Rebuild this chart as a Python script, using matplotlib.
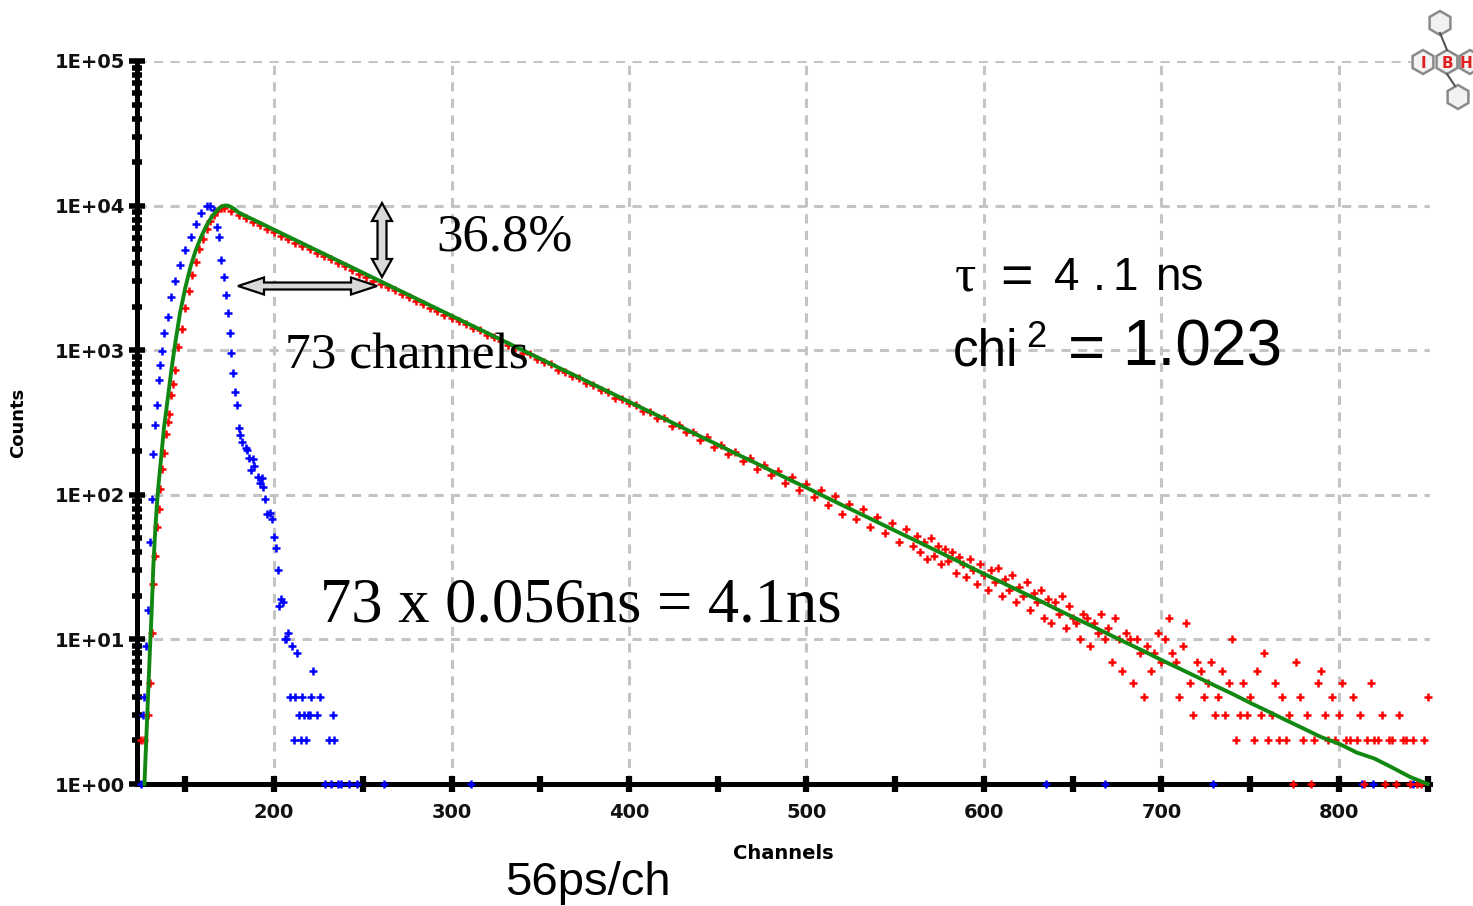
#!/usr/bin/env python3

# imports
import numpy as np
import matplotlib
matplotlib.use('Agg')
import matplotlib.pyplot as plt
from matplotlib.ticker import MultipleLocator, LogLocator, FuncFormatter, NullFormatter
from matplotlib.patches import Polygon, RegularPolygon

# decay data (red), rising edge read point by point, then every 4 / every 2 channels
red_rise_ch = [125, 127, 129, 130, 131, 132, 133, 134, 135, 136, 137, 138, 139, 140, 141,
               142, 143, 144, 146, 148, 150, 152, 154, 156, 158, 160, 162, 164, 166, 168, 170]
red_rise_counts = [2, 2, 3, 5, 11, 24, 38, 60, 80, 110, 150, 195, 265, 320, 360,
                   490, 580, 730, 1050, 1400, 1950, 2550, 3300, 4100, 5000, 5900, 6900, 7800, 8600, 9200, 9600]

red_mid_ch = np.arange(172, 561, 4)
red_mid_counts = [9650, 9150, 8600, 8150, 7750, 7300, 6900, 6550, 6200, 5900,
                  5550, 5250, 4980, 4700, 4450, 4250, 3980, 3800, 3580, 3380,
                  3230, 3020, 2890, 2720, 2590, 2430, 2330, 2180, 2090, 1960,
                  1870, 1760, 1670, 1600, 1510, 1420, 1370, 1270, 1230, 1150,
                  1090, 1040, 960, 935, 870, 830, 800, 735, 712, 660,
                  640, 590, 575, 530, 515, 470, 462, 430, 418, 380,
                  372, 340, 338, 300, 305, 270, 272, 240, 250, 215,
                  222, 190, 198, 170, 180, 150, 162, 138, 145, 120,
                  133, 108, 118, 96, 108, 85, 98, 74, 86, 68,
                  80, 60, 70, 54, 64, 47, 58, 44]

red_tail_ch = np.arange(562, 851, 2)
red_tail_counts = [52, 40, 47, 36, 50, 38, 44, 33, 42, 35,
                   40, 29, 37, 33, 27, 36, 30, 24, 33, 28,
                   22, 30, 25, 31, 20, 26, 22, 28, 18, 23,
                   20, 25, 16, 21, 18, 22, 14, 19, 13, 18,
                   15, 20, 12, 17, 14, 13, 10, 15, 14, 9,
                   13, 11, 15, 10, 12, 7, 14, 10, 6, 11,
                   10, 5, 10, 8, 4, 9, 6, 8, 11, 7,
                   10, 14, 8, 7, 4, 9, 13, 5, 3, 7,
                   6, 4, 5, 7, 3, 4, 6, 3, 5, 10,
                   2, 3, 5, 3, 4, 2, 6, 3, 8, 2,
                   3, 5, 2, 4, 2, 3, 1, 7, 4, 2,
                   3, 1, 2, 5, 6, 3, 2, 4, 2, 3,
                   5, 2, 2, 4, 2, 3, 1, 2, 5, 2,
                   2, 3, 1, 2, 2, 1, 3, 2, 2, 1,
                   2, 1, 1, 2, 4]

# instrument response (blue)
irf_ch = [125, 126, 127, 128, 129, 130, 131, 132, 133, 134,
          135, 136, 137, 138, 140, 142, 144, 147, 150, 153,
          156, 159, 162, 164, 166, 168, 169, 170, 172, 173,
          174, 175, 176, 177, 178, 179, 180, 181, 182, 184,
          185, 186, 187, 188, 189, 191, 192, 193, 194, 195,
          196, 198, 199, 200, 201, 202, 203, 204, 205, 206,
          207, 208, 209, 210, 211, 212, 213, 214, 215, 216,
          217, 218, 219, 220, 221, 222, 224, 226, 229, 231,
          232, 233, 234, 236, 238, 242, 247, 262, 311, 635,
          668, 729, 813, 819, 842]
irf_counts = [1, 3, 4, 9, 16, 47, 94, 191, 303, 420,
              620, 790, 980, 1310, 1700, 2350, 3000, 3900, 4900, 6100,
              7500, 8900, 9950, 9900, 9300, 7100, 6100, 4200, 3200, 2400,
              1800, 1310, 955, 700, 510, 420, 290, 260, 233, 211,
              204, 180, 148, 177, 158, 133, 120, 130, 113, 93,
              74, 75, 68, 51, 43, 30, 17, 19, 18, 10,
              10, 11, 4, 9, 2, 4, 8, 3, 2, 4,
              3, 2, 3, 3, 4, 6, 3, 4, 1, 2,
              1, 3, 2, 1, 1, 1, 1, 1, 1, 1,
              1, 1, 1, 1, 1]

# fitted curve (green)
fit_ch = [127, 128, 129, 130, 131, 132, 133, 134, 135, 136, 138, 140,
          142, 144, 147, 150, 153, 156, 159, 162, 165, 168, 170, 172,
          174, 176, 178] + list(range(180, 851, 10))
fit_counts = [1, 2, 4, 8, 15, 32, 55, 85, 120, 160, 290, 450,
              700, 1050, 1800, 2700, 3800, 4950, 6100, 7300, 8400, 9300, 9800, 10000,
              10000, 9750, 9400,
              8960, 7815, 6814, 5941, 5182, 4519, 3940, 3436, 2996, 2612,
              2278, 1986, 1732, 1510, 1317, 1148, 1001, 873, 761, 664,
              579, 505, 440, 384, 335, 292, 254, 222, 193, 169,
              147, 128, 112, 97.5, 85, 74.2, 64.7, 56.4, 49.2, 42.9,
              37.4, 32.6, 28.4, 24.8, 21.6, 18.9, 16.4, 14.3, 12.5, 10.9,
              9.5, 8.3, 7.2, 6.3, 5.5, 4.8, 4.2, 3.64, 3.18, 2.77,
              2.42, 2.11, 1.9, 1.65, 1.5, 1.3, 1.12, 1.0]

red_ch = np.concatenate([red_rise_ch, red_mid_ch, red_tail_ch])
red_counts = np.concatenate([red_rise_counts, red_mid_counts, red_tail_counts])

W, H = 1473, 906
fig = plt.figure(figsize=(W / 100, H / 100), dpi=100)
fig.patch.set_facecolor('white')

# axes placed in pixels of the original picture
L, R, T, B = 137, 1430, 61, 784
ax = fig.add_axes([L / W, 1 - B / H, (R - L) / W, (B - T) / H])
ax.set_yscale('log')
ax.set_xlim(122.8, 851.3)
ax.set_ylim(1, 1e5)

mk = dict(linestyle='none', marker='+', markersize=5.5, markeredgewidth=1.8, clip_on=False)
ax.plot(irf_ch, irf_counts, color='#0000ff', zorder=4, **mk)
ax.plot(red_ch, red_counts, color='#ff0000', zorder=5, **mk)
ax.plot(fit_ch, fit_counts, color='#118811', lw=2.8, zorder=6, clip_on=False)

# grid, spines, ticks
ax.grid(True, which='major', color='#c4c4c4', lw=2.2, ls=(0, (3, 2.4)))
ax.set_axisbelow(True)
for side in ['top', 'right']:
    ax.spines[side].set_visible(False)
for side in ['left', 'bottom']:
    ax.spines[side].set_linewidth(3.6)
    ax.spines[side].set_zorder(3)

ax.xaxis.set_major_locator(MultipleLocator(100))
ax.xaxis.set_minor_locator(MultipleLocator(50))
ax.yaxis.set_major_locator(LogLocator(base=10, numticks=10))
ax.yaxis.set_minor_locator(LogLocator(base=10, subs=np.arange(2, 10), numticks=10))
ax.yaxis.set_major_formatter(FuncFormatter(lambda v, _: '1E+%02d' % int(round(np.log10(v)))))
ax.yaxis.set_minor_formatter(NullFormatter())

ax.tick_params(axis='x', which='both', direction='inout', length=11, width=4.5, pad=8,
               labelsize=14, color='black')
ax.tick_params(axis='y', which='major', direction='inout', length=11, width=4, pad=3,
               labelsize=14)
ax.tick_params(axis='y', which='minor', direction='inout', length=7, width=4)
for lab in ax.get_xticklabels() + ax.get_yticklabels():
    lab.set_fontweight('bold')
    lab.set_color('#111111')

ax.set_xlabel('Channels', fontsize=14, fontweight='bold', labelpad=16)
ax.set_ylabel('Counts', fontsize=13, fontweight='bold', labelpad=20)


def ptext(x, y, s, **kw):
    fig.text(x / W, 1 - y / H, s, va='baseline', ha='left', **kw)


def block_arrow(x0, y0, x1, y1, sw, hw, hl):
    # double headed block arrow, given in picture pixels
    p0, p1 = np.array([x0, y0], float), np.array([x1, y1], float)
    u = (p1 - p0) / np.hypot(*(p1 - p0))
    n = np.array([-u[1], u[0]])
    pts = [p0, p0 + u * hl + n * hw / 2, p0 + u * hl + n * sw / 2,
           p1 - u * hl + n * sw / 2, p1 - u * hl + n * hw / 2, p1,
           p1 - u * hl - n * hw / 2, p1 - u * hl - n * sw / 2,
           p0 + u * hl - n * sw / 2, p0 + u * hl - n * hw / 2]
    pts = [(p[0] / W, 1 - p[1] / H) for p in pts]
    fig.patches.append(Polygon(pts, closed=True, transform=fig.transFigure,
                               facecolor='#d9d9d9', edgecolor='black', lw=1.6, zorder=10))


block_arrow(382, 203, 382, 277, 9, 20, 18)
block_arrow(238, 286, 377, 286, 7, 17, 26)

serif = 'Liberation Serif'
sans = 'Liberation Sans'
ptext(436, 250, '36.8%', fontsize=38, family=serif)
ptext(285, 368, '73 channels', fontsize=37, family=serif)
ptext(320, 622, '73 x 0.056ns = 4.1ns', fontsize=45, family=serif)

# tau line, pieces spaced like the slide
ptext(955, 290, 'τ', fontsize=38, family=serif)
ptext(1000, 293, '=', fontsize=40, family=sans)
ptext(1054, 290, '4', fontsize=33, family=sans)
ptext(1093, 290, '.', fontsize=33, family=sans)
ptext(1112, 290, '1', fontsize=33, family=sans)
ptext(1155, 290, 'ns', fontsize=33, family=sans)

# chi line
ptext(953, 365, 'chi', fontsize=37, family=sans)
ptext(1026, 347, '2', fontsize=26, family=sans)
ptext(1068, 369, '=', fontsize=46, family=sans)
ptext(1122, 365, '1.023', fontsize=46, family=sans)

ptext(505, 895, '56ps/ch', fontsize=34, family=sans)

# small IBH logo in the corner
lg = fig.add_axes([1400 / W, 1 - 115 / H, 73 / W, 115 / H])
lg.set_xlim(1400, 1473)
lg.set_ylim(115, 0)
lg.axis('off')
lg.plot([1440, 1447], [33, 50], color='#555555', lw=1.5)
lg.plot([1447, 1455], [74, 86], color='#555555', lw=1.5)
for (cx, cy) in [(1440, 23), (1423, 62), (1447, 62), (1470, 62), (1458, 97)]:
    lg.add_patch(RegularPolygon((cx, cy), 6, radius=12, facecolor='#f2f2f2',
                                edgecolor='#8a8a8a', lw=1.8))
for (cx, s) in [(1423, 'I'), (1447, 'B'), (1466, 'H')]:
    lg.text(cx, 63, s, color='#e02020', fontsize=11, fontweight='bold', ha='center', va='center')

fig.savefig('out.png', dpi=100)
print('Saved plot to out.png')
